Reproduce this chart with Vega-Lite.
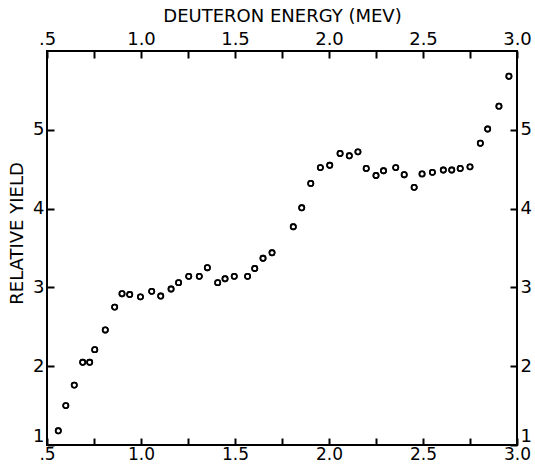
{
  "$schema": "https://vega.github.io/schema/vega-lite/v6.json",
  "width": 470,
  "height": 394,
  "autosize": {"type": "none"},
  "padding": {"left": 47, "top": 51, "right": 18, "bottom": 19},
  "background": "white",
  "config": {
    "font": "DejaVu Sans",
    "view": {"stroke": "black", "strokeWidth": 2, "fill": null},
    "axis": {
      "grid": false,
      "domain": false,
      "ticks": true,
      "zindex": 1,
      "labelColor": "black",
      "labelFontSize": 18,
      "labelFont": "DejaVu Sans",
      "titleColor": "black",
      "titleFont": "DejaVu Sans",
      "titleFontSize": 18,
      "titleFontWeight": "normal"
    }
  },
  "data": {
    "values": [
      {"energy": 0.56, "yield": 1.18},
      {"energy": 0.60, "yield": 1.50},
      {"energy": 0.645, "yield": 1.76},
      {"energy": 0.69, "yield": 2.05},
      {"energy": 0.727, "yield": 2.05},
      {"energy": 0.754, "yield": 2.21},
      {"energy": 0.81, "yield": 2.46},
      {"energy": 0.86, "yield": 2.75},
      {"energy": 0.899, "yield": 2.92},
      {"energy": 0.94, "yield": 2.91},
      {"energy": 0.997, "yield": 2.88},
      {"energy": 1.057, "yield": 2.95},
      {"energy": 1.105, "yield": 2.89},
      {"energy": 1.16, "yield": 2.98},
      {"energy": 1.20, "yield": 3.06},
      {"energy": 1.254, "yield": 3.14},
      {"energy": 1.31, "yield": 3.14},
      {"energy": 1.353, "yield": 3.25},
      {"energy": 1.408, "yield": 3.06},
      {"energy": 1.447, "yield": 3.11},
      {"energy": 1.496, "yield": 3.14},
      {"energy": 1.567, "yield": 3.14},
      {"energy": 1.605, "yield": 3.24},
      {"energy": 1.649, "yield": 3.37},
      {"energy": 1.697, "yield": 3.44},
      {"energy": 1.81, "yield": 3.77},
      {"energy": 1.855, "yield": 4.01},
      {"energy": 1.903, "yield": 4.32},
      {"energy": 1.954, "yield": 4.52},
      {"energy": 2.004, "yield": 4.55},
      {"energy": 2.059, "yield": 4.70},
      {"energy": 2.108, "yield": 4.67},
      {"energy": 2.154, "yield": 4.72},
      {"energy": 2.198, "yield": 4.51},
      {"energy": 2.25, "yield": 4.42},
      {"energy": 2.29, "yield": 4.48},
      {"energy": 2.355, "yield": 4.52},
      {"energy": 2.40, "yield": 4.43},
      {"energy": 2.453, "yield": 4.27},
      {"energy": 2.495, "yield": 4.44},
      {"energy": 2.55, "yield": 4.46},
      {"energy": 2.608, "yield": 4.49},
      {"energy": 2.653, "yield": 4.49},
      {"energy": 2.698, "yield": 4.51},
      {"energy": 2.75, "yield": 4.53},
      {"energy": 2.805, "yield": 4.83},
      {"energy": 2.844, "yield": 5.01},
      {"energy": 2.904, "yield": 5.30},
      {"energy": 2.957, "yield": 5.68}
    ]
  },
  "layer": [
    {
      "mark": {"type": "point", "shape": "circle", "filled": false, "color": "black", "size": 28, "strokeWidth": 1.6, "opacity": 1},
      "encoding": {
        "x": {
          "field": "energy", "type": "quantitative",
          "scale": {"domain": [0.5, 3.0], "nice": false, "zero": false},
          "axis": {
            "orient": "bottom", "title": null,
            "offset": -7, "ticks": true, "tickSize": 7, "tickWidth": 2, "tickColor": "black", "tickOpacity": 1,
            "values": [0.5, 0.75, 1.0, 1.25, 1.5, 1.75, 2.0, 2.25, 2.5, 2.75, 3.0],
            "labelExpr": "(datum.value * 2) % 1 == 0 ? (datum.value == 0.5 ? '.5' : format(datum.value, '.1f')) : ''",
            "labelFontSize": 17,
            "labelPadding": 1,
            "labelFlush": false,
            "labelOverlap": false
          }
        },
        "y": {
          "field": "yield", "type": "quantitative",
          "scale": {"domain": [1, 6], "nice": false, "zero": false},
          "axis": {
            "orient": "left", "title": "RELATIVE YIELD",
            "offset": -7, "ticks": true, "tickSize": 7, "tickWidth": 2, "tickColor": "black", "tickOpacity": 1,
            "labelPadding": 3,
            "values": [1, 2, 3, 4, 5],
            "format": "d",
            "titlePadding": 6,
            "titleY": 182,
            "labelOffset": {"condition": {"test": "datum.value == 1", "value": -9}, "value": 0},
            "labelFlush": false,
            "labelOverlap": false
          }
        }
      }
    },
    {
      "mark": {"type": "point", "shape": "circle", "filled": false, "color": "black", "size": 28, "strokeWidth": 1.6, "opacity": 1},
      "encoding": {
        "x": {
          "field": "energy", "type": "quantitative",
          "scale": {"domain": [0.5, 3.0], "nice": false, "zero": false},
          "axis": {
            "orient": "top", "title": "DEUTERON ENERGY (MEV)",
            "offset": -7, "ticks": true, "tickSize": 7, "tickWidth": 2, "tickColor": "black", "tickOpacity": 1,
            "labelPadding": 3,
            "titlePadding": 5,
            "values": [0.5, 0.75, 1.0, 1.25, 1.5, 1.75, 2.0, 2.25, 2.5, 2.75, 3.0],
            "labelExpr": "(datum.value * 2) % 1 == 0 ? (datum.value == 0.5 ? '.5' : format(datum.value, '.1f')) : ''",
            "labelFlush": false,
            "labelOverlap": false
          }
        },
        "y": {
          "field": "yield", "type": "quantitative",
          "scale": {"domain": [1, 6], "nice": false, "zero": false},
          "axis": {
            "orient": "right", "title": null,
            "offset": -7, "ticks": true, "tickSize": 7, "tickWidth": 2, "tickColor": "black", "tickOpacity": 1,
            "labelPadding": 3,
            "values": [1, 2, 3, 4, 5],
            "format": "d",
            "labelOffset": {"condition": {"test": "datum.value == 1", "value": -9}, "value": 0},
            "labelFlush": false,
            "labelOverlap": false
          }
        }
      }
    }
  ],
  "resolve": {"axis": {"x": "independent", "y": "independent"}}
}
